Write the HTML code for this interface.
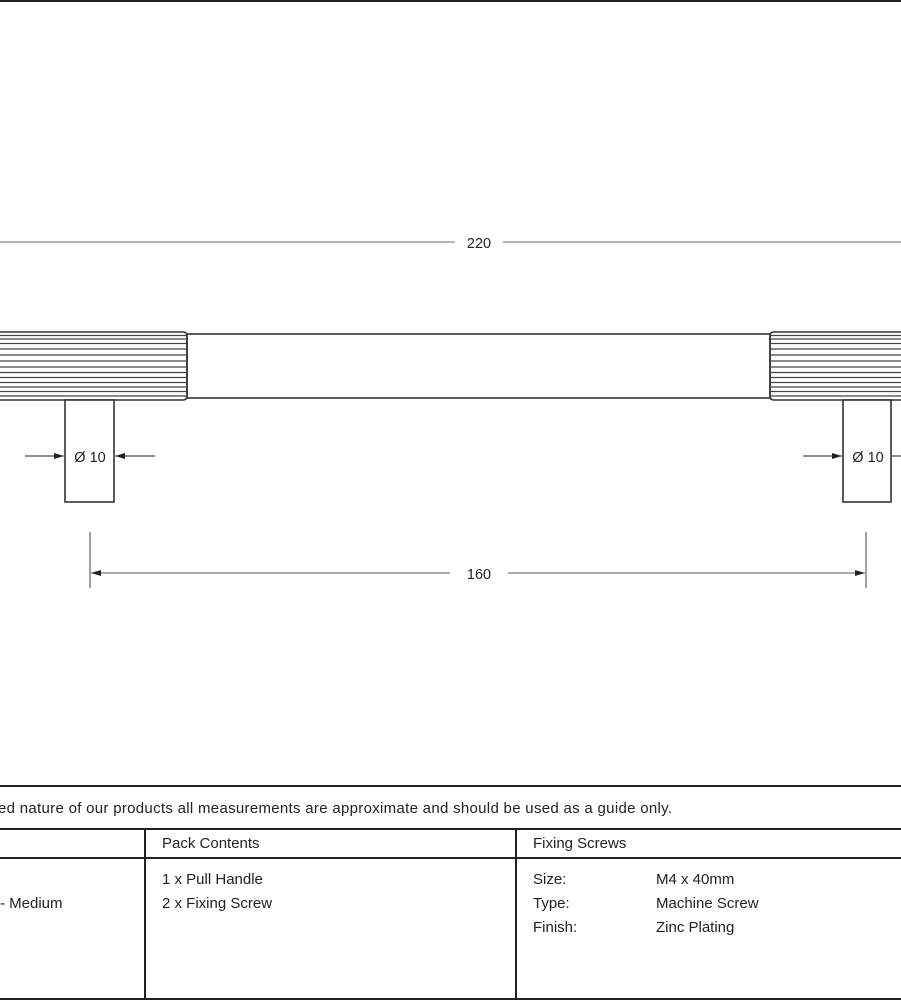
<!DOCTYPE html>
<html><head><meta charset="utf-8"><style>
html,body{margin:0;padding:0;background:#fff;}
body{width:901px;height:1001px;overflow:hidden;position:relative;font-family:"Liberation Sans",sans-serif;}
svg{position:absolute;left:0;top:0;}
text{font-family:"Liberation Sans",sans-serif;fill:#222;}
</style></head><body>
<svg width="901" height="1001" viewBox="0 0 901 1001">
<defs>
<marker id="a" markerWidth="10" markerHeight="6" refX="10" refY="3" orient="auto" markerUnits="userSpaceOnUse"><path d="M0,0 L10,3 L0,6 Z" fill="#222"/></marker>
</defs>
<line x1="0" y1="1" x2="901" y2="1" stroke="#222" stroke-width="2"/>
<!-- 220 -->
<line x1="0" y1="242" x2="455" y2="242" stroke="#8a8a80" stroke-width="1.3"/>
<line x1="503" y1="242" x2="901" y2="242" stroke="#8a8a80" stroke-width="1.3"/>
<text x="479" y="248" font-size="14.5" text-anchor="middle">220</text>
<!-- bar -->
<rect x="187" y="334" width="583" height="64" fill="none" stroke="#333" stroke-width="1.6"/>
<!-- knurls -->
<g stroke="#333" stroke-width="1.6" fill="none">
<path d="M-5,332 H183 Q187,332 187,336 V396 Q187,400 183,400 H-5"/>
<path d="M906,332 H774 Q770,332 770,336 V396 Q770,400 774,400 H906"/>
</g>
<g stroke="#444" stroke-width="1.3">
<line x1="0" x2="187" y1="335.5" y2="335.5"/><line x1="0" x2="187" y1="339" y2="339"/><line x1="0" x2="187" y1="343.5" y2="343.5"/><line x1="0" x2="187" y1="349" y2="349"/><line x1="0" x2="187" y1="355" y2="355"/><line x1="0" x2="187" y1="361" y2="361"/><line x1="0" x2="187" y1="367" y2="367"/><line x1="0" x2="187" y1="372.5" y2="372.5"/><line x1="0" x2="187" y1="377.5" y2="377.5"/><line x1="0" x2="187" y1="382.5" y2="382.5"/><line x1="0" x2="187" y1="387" y2="387"/><line x1="0" x2="187" y1="391.5" y2="391.5"/><line x1="0" x2="187" y1="396" y2="396"/>
<line x1="770" x2="901" y1="335.5" y2="335.5"/><line x1="770" x2="901" y1="339" y2="339"/><line x1="770" x2="901" y1="343.5" y2="343.5"/><line x1="770" x2="901" y1="349" y2="349"/><line x1="770" x2="901" y1="355" y2="355"/><line x1="770" x2="901" y1="361" y2="361"/><line x1="770" x2="901" y1="367" y2="367"/><line x1="770" x2="901" y1="372.5" y2="372.5"/><line x1="770" x2="901" y1="377.5" y2="377.5"/><line x1="770" x2="901" y1="382.5" y2="382.5"/><line x1="770" x2="901" y1="387" y2="387"/><line x1="770" x2="901" y1="391.5" y2="391.5"/><line x1="770" x2="901" y1="396" y2="396"/>
</g>
<!-- stems -->
<rect x="65" y="400" width="49" height="102" fill="#fff" stroke="#333" stroke-width="1.6"/>
<rect x="843" y="400" width="48" height="102" fill="#fff" stroke="#333" stroke-width="1.6"/>
<g stroke="#222" stroke-width="1">
<line x1="25" y1="456" x2="64" y2="456" marker-end="url(#a)"/>
<line x1="155" y1="456" x2="115" y2="456" marker-end="url(#a)"/>
<line x1="803" y1="456" x2="842" y2="456" marker-end="url(#a)"/>
<line x1="901" y1="456" x2="892" y2="456"/>
</g>
<text x="90" y="462" font-size="14.5" text-anchor="middle">Ø 10</text>
<text x="868" y="462" font-size="14.5" text-anchor="middle">Ø 10</text>
<!-- 160 -->
<g stroke="#777" stroke-width="1.4">
<line x1="90" y1="532" x2="90" y2="588"/>
<line x1="866" y1="532" x2="866" y2="588"/>
</g>
<g stroke="#555" stroke-width="1.1">
<line x1="450" y1="573" x2="91" y2="573" marker-end="url(#a)"/>
<line x1="508" y1="573" x2="865" y2="573" marker-end="url(#a)"/>
</g>
<text x="479" y="579" font-size="14.5" text-anchor="middle">160</text>
<!-- table -->
<g stroke="#222" stroke-width="2">
<line x1="0" y1="786" x2="901" y2="786"/>
<line x1="0" y1="829" x2="901" y2="829"/>
<line x1="0" y1="858" x2="901" y2="858"/>
<line x1="0" y1="999" x2="901" y2="999"/>
<line x1="145" y1="829" x2="145" y2="999"/>
<line x1="516" y1="829" x2="516" y2="999"/>
</g>
<g font-size="15">
<text x="-2" y="813" textLength="674" lengthAdjust="spacing">ed nature of our products all measurements are approximate and should be used as a guide only.</text>
<text x="162" y="848">Pack Contents</text>
<text x="533" y="848">Fixing Screws</text>
<text x="162" y="884">1 x Pull Handle</text>
<text x="162" y="908">2 x Fixing Screw</text>
<text x="0" y="908">- Medium</text>
<text x="533" y="884">Size:</text>
<text x="533" y="908">Type:</text>
<text x="533" y="932">Finish:</text>
<text x="656" y="884">M4 x 40mm</text>
<text x="656" y="908">Machine Screw</text>
<text x="656" y="932">Zinc Plating</text>
</g>
</svg>
</body></html>
